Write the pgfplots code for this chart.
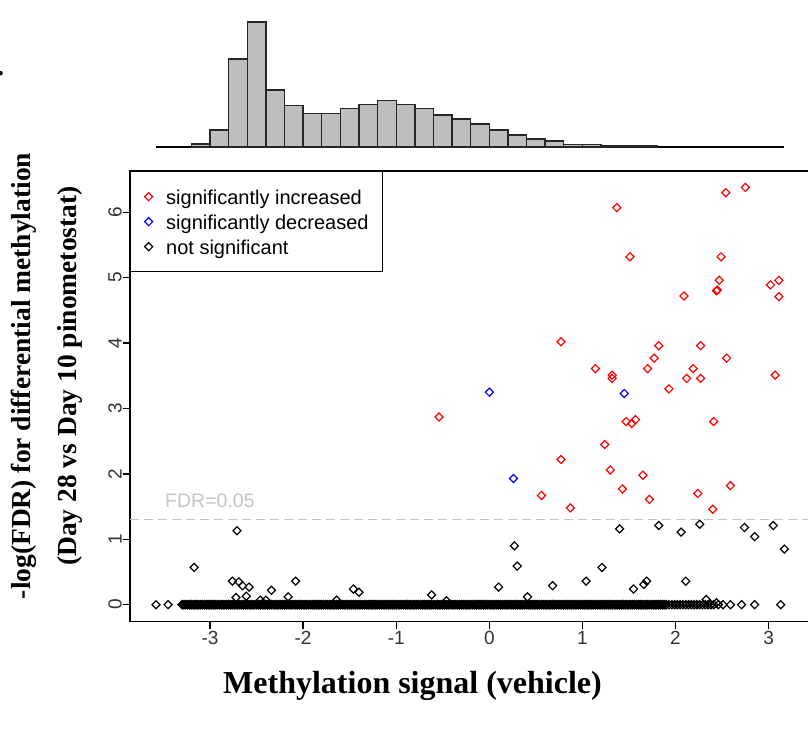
\documentclass[border=0pt]{standalone}
\usepackage{pgfplots}
\pgfplotsset{compat=1.18}
\usepackage{fontspec}
\setmainfont{Liberation Serif}
\setsansfont{Liberation Sans}
\definecolor{histgray}{HTML}{BEBEBE}
\definecolor{fdrgray}{HTML}{C4C4C4}
\begin{document}
\begin{tikzpicture}
\useasboundingbox (0pt,0pt) rectangle (808pt,730pt);
\node[anchor=base west, inner sep=0pt] at (-3pt,654pt) {\fontsize{28}{28}\selectfont\bfseries .};
% ---------------- histogram ----------------
\begin{axis}[
  at={(130pt,583pt)}, anchor=south west, scale only axis,
  width=682pt, height=125pt,
  xmin=-3.8593, xmax=3.4662, ymin=0, ymax=100,
  hide axis, clip=false,
]
\addplot[black, line width=2.6pt] coordinates {(-3.58,0) (3.17,0)};
\addplot[ybar interval, fill=histgray, draw=black!85, line width=1.4pt] coordinates {
(-3.2,2.4) (-3.0,13.6) (-2.8,70.3) (-2.6,100) (-2.4,45.7) (-2.2,33.2) (-2.0,26.7) (-1.8,26.7) (-1.6,30.7) (-1.4,34.2) (-1.2,37.2) (-1.0,34.2) (-0.8,30.7) (-0.6,25.7) (-0.4,22.5) (-0.2,18.4) (0.0,13.6) (0.2,9.6) (0.4,6.4) (0.6,4.8) (0.8,2.1) (1.0,2.1) (1.2,1.1) (1.4,1.1) (1.6,1.3) (1.8,0)};
\end{axis}
% ---------------- scatter ----------------
\begin{axis}[
  at={(130pt,108.3pt)}, anchor=south west, scale only axis,
  width=682pt, height=450.7pt,
  xmin=-3.8593, xmax=3.4662, ymin=-0.2599, ymax=6.6315,
  axis line style={black, line width=1.3pt},
  xtick={-3,-2,-1,0,1,2,3}, ytick={0,1,2,3,4,5,6},
  xticklabels={-3,-2,-1,0,1,2,3}, yticklabels={0,1,2,3,4,5,6},
  tick align=outside, xtick pos=bottom, ytick pos=left,
  major tick length=7.5pt,
  tick style={black, line width=1.3pt},
  ticklabel style={font=\fontsize{19}{19}\selectfont\sffamily, text=black!80, inner sep=0pt},
  xticklabel style={anchor=center},
  yticklabel style={rotate=90, anchor=center},
  xticklabel shift=8.3pt, yticklabel shift=7.5pt,
  clip=false,
  legend style={at={(0,1)}, anchor=north west, draw=black, line width=1.3pt,
    font=\fontsize{20}{20}\selectfont\sffamily,
    inner xsep=14pt, inner ysep=16pt, row sep=7pt, column sep=13.5pt,
    nodes={inner sep=0pt, text height=16.5pt, text depth=1.5pt}},
  legend cell align=left,
  legend image code/.code={\draw[#1] plot coordinates {(0pt,0pt)};},
]
\addplot[fdrgray, line width=1.3pt, dash pattern=on 9pt off 5pt, forget plot] coordinates {(-3.8593,1.301) (3.4662,1.301)};
\node[anchor=west, inner sep=0pt, text=fdrgray, font=\fontsize{19.5}{19.5}\selectfont\sffamily] at (axis cs:-3.483,1.586) {FDR=0.05};
% band of non-significant points at zero
\addplot[only marks, mark=square, mark size=2.85pt, color=black, mark options={solid, line width=1.5pt, rotate=45}, forget plot] coordinates {
(-3.30,0)(-3.28,0)(-3.26,0)(-3.24,0)(-3.22,0)
(-3.20,0)(-3.18,0)(-3.16,0)(-3.14,0)(-3.12,0)(-3.10,0)(-3.08,0)(-3.06,0)(-3.04,0)(-3.02,0)
(-3.00,0)(-2.98,0)(-2.96,0)(-2.94,0)(-2.92,0)(-2.90,0)(-2.88,0)(-2.86,0)(-2.84,0)(-2.82,0)
(-2.80,0)(-2.78,0)(-2.76,0)(-2.74,0)(-2.72,0)(-2.70,0)(-2.68,0)(-2.66,0)(-2.64,0)(-2.62,0)
(-2.60,0)(-2.58,0)(-2.56,0)(-2.54,0)(-2.52,0)(-2.50,0)(-2.48,0)(-2.46,0)(-2.44,0)(-2.42,0)
(-2.40,0)(-2.38,0)(-2.36,0)(-2.34,0)(-2.32,0)(-2.30,0)(-2.28,0)(-2.26,0)(-2.24,0)(-2.22,0)
(-2.20,0)(-2.18,0)(-2.16,0)(-2.14,0)(-2.12,0)(-2.10,0)(-2.08,0)(-2.06,0)(-2.04,0)(-2.02,0)
(-2.00,0)(-1.98,0)(-1.96,0)(-1.94,0)(-1.92,0)(-1.90,0)(-1.88,0)(-1.86,0)(-1.84,0)(-1.82,0)
(-1.80,0)(-1.78,0)(-1.76,0)(-1.74,0)(-1.72,0)(-1.70,0)(-1.68,0)(-1.66,0)(-1.64,0)(-1.62,0)
(-1.60,0)(-1.58,0)(-1.56,0)(-1.54,0)(-1.52,0)(-1.50,0)(-1.48,0)(-1.46,0)(-1.44,0)(-1.42,0)
(-1.40,0)(-1.38,0)(-1.36,0)(-1.34,0)(-1.32,0)(-1.30,0)(-1.28,0)(-1.26,0)(-1.24,0)(-1.22,0)
(-1.20,0)(-1.18,0)(-1.16,0)(-1.14,0)(-1.12,0)(-1.10,0)(-1.08,0)(-1.06,0)(-1.04,0)(-1.02,0)
(-1.00,0)(-0.98,0)(-0.96,0)(-0.94,0)(-0.92,0)(-0.90,0)(-0.88,0)(-0.86,0)(-0.84,0)(-0.82,0)
(-0.80,0)(-0.78,0)(-0.76,0)(-0.74,0)(-0.72,0)(-0.70,0)(-0.68,0)(-0.66,0)(-0.64,0)(-0.62,0)
(-0.60,0)(-0.58,0)(-0.56,0)(-0.54,0)(-0.52,0)(-0.50,0)(-0.48,0)(-0.46,0)(-0.44,0)(-0.42,0)
(-0.40,0)(-0.38,0)(-0.36,0)(-0.34,0)(-0.32,0)(-0.30,0)(-0.28,0)(-0.26,0)(-0.24,0)(-0.22,0)
(-0.20,0)(-0.18,0)(-0.16,0)(-0.14,0)(-0.12,0)(-0.10,0)(-0.08,0)(-0.06,0)(-0.04,0)(-0.02,0)
(0.00,0)(0.02,0)(0.04,0)(0.06,0)(0.08,0)(0.10,0)(0.12,0)(0.14,0)(0.16,0)(0.18,0)
(0.20,0)(0.22,0)(0.24,0)(0.26,0)(0.28,0)(0.30,0)(0.32,0)(0.34,0)(0.36,0)(0.38,0)
(0.40,0)(0.42,0)(0.44,0)(0.46,0)(0.48,0)(0.50,0)(0.52,0)(0.54,0)(0.56,0)(0.58,0)
(0.60,0)(0.62,0)(0.64,0)(0.66,0)(0.68,0)(0.70,0)(0.72,0)(0.74,0)(0.76,0)(0.78,0)
(0.80,0)(0.82,0)(0.84,0)(0.86,0)(0.88,0)(0.90,0)(0.92,0)(0.94,0)(0.96,0)(0.98,0)
(1.00,0)(1.02,0)(1.04,0)(1.06,0)(1.08,0)(1.10,0)(1.12,0)(1.14,0)(1.16,0)(1.18,0)
(1.20,0)(1.22,0)(1.24,0)(1.26,0)(1.28,0)(1.30,0)(1.32,0)(1.34,0)(1.36,0)(1.38,0)
(1.40,0)(1.42,0)(1.44,0)(1.46,0)(1.48,0)(1.50,0)(1.52,0)(1.54,0)(1.56,0)(1.58,0)
(1.60,0)(1.62,0)(1.64,0)(1.66,0)(1.68,0)(1.70,0)(1.72,0)(1.74,0)(1.76,0)(1.78,0)
(1.80,0)(1.82,0)(1.84,0)(1.86,0)(1.88,0)(1.90,0)};
\addplot[only marks, mark=square, mark size=2.85pt, color=black, mark options={solid, line width=1.3pt, rotate=45}, forget plot] coordinates {
(1.93,0)(1.96,0)(1.99,0)(2.02,0)(2.05,0)(2.08,0)(2.11,0)(2.14,0)(2.17,0)(2.20,0)(2.23,0)(2.26,0)(2.29,0)(2.32,0)(2.35,0)(2.38,0)(2.41,0)(2.44,0.03)(2.46,0)};
% significant / non-significant series
\addplot[only marks, mark=square, mark size=2.85pt, color=red, mark options={solid, line width=1.2pt, rotate=45}] coordinates {
(1.37,6.07)(2.54,6.30)(2.75,6.38)(1.51,5.32)(2.49,5.32)(2.47,4.96)(2.44,4.80)(2.45,4.81)(2.09,4.72)(3.02,4.89)(3.11,4.96)(3.11,4.71)(1.82,3.96)(2.27,3.96)(1.77,3.77)(2.55,3.77)(1.70,3.61)(2.19,3.61)(0.77,4.02)(1.14,3.61)(1.32,3.51)(1.32,3.46)(-0.54,2.87)(1.24,2.45)(0.77,2.22)(1.30,2.06)(0.56,1.67)(0.87,1.48)(2.12,3.46)(2.27,3.46)(3.07,3.51)(1.93,3.30)(1.47,2.80)(1.53,2.77)(1.57,2.83)(2.41,2.80)(1.65,1.98)(1.43,1.77)(2.59,1.82)(1.72,1.61)(2.24,1.70)(2.40,1.46)};
\addlegendentry{significantly increased}
\addplot[only marks, mark=square, mark size=2.85pt, color=blue, mark options={solid, line width=1.2pt, rotate=45}] coordinates {
(0.00,3.25)(0.26,1.93)(1.45,3.23)};
\addlegendentry{significantly decreased}
\addplot[only marks, mark=square, mark size=2.85pt, color=black, mark options={solid, line width=1.2pt, rotate=45}] coordinates {
(-2.71,1.13)(-3.17,0.57)(-2.76,0.36)(-2.69,0.35)(-2.65,0.29)(-2.58,0.27)(-2.34,0.22)(-2.08,0.36)(-2.16,0.12)(-1.46,0.24)(-1.40,0.19)(-0.62,0.15)(-3.58,0)(-3.45,0)(-2.72,0.11)(-2.61,0.13)(-2.46,0.07)(-2.40,0.07)(-1.64,0.07)(-0.46,0.06)(0.27,0.90)(0.30,0.59)(0.10,0.27)(0.41,0.12)(0.68,0.29)(1.04,0.36)(1.21,0.57)(1.40,1.16)(1.82,1.21)(2.06,1.11)(2.26,1.23)(1.55,0.24)(1.66,0.31)(1.69,0.36)(2.11,0.36)(2.74,1.18)(2.85,1.04)(3.05,1.21)(3.17,0.85)(2.33,0.08)(2.51,0)(2.59,0)(2.71,0)(2.85,0)(3.13,0)};
\addlegendentry{not significant}
\end{axis}
% ---------------- axis titles ----------------
\node[font=\fontsize{32}{32}\selectfont\bfseries] at (412.5pt,44pt) {Methylation signal (vehicle)};
\node[rotate=90, align=center, font=\fontsize{27.5}{46}\selectfont\bfseries] at (47pt,354pt) {-log(FDR) for differential methylation\\(Day 28 vs Day 10 pinometostat)};
\end{tikzpicture}
\end{document}
